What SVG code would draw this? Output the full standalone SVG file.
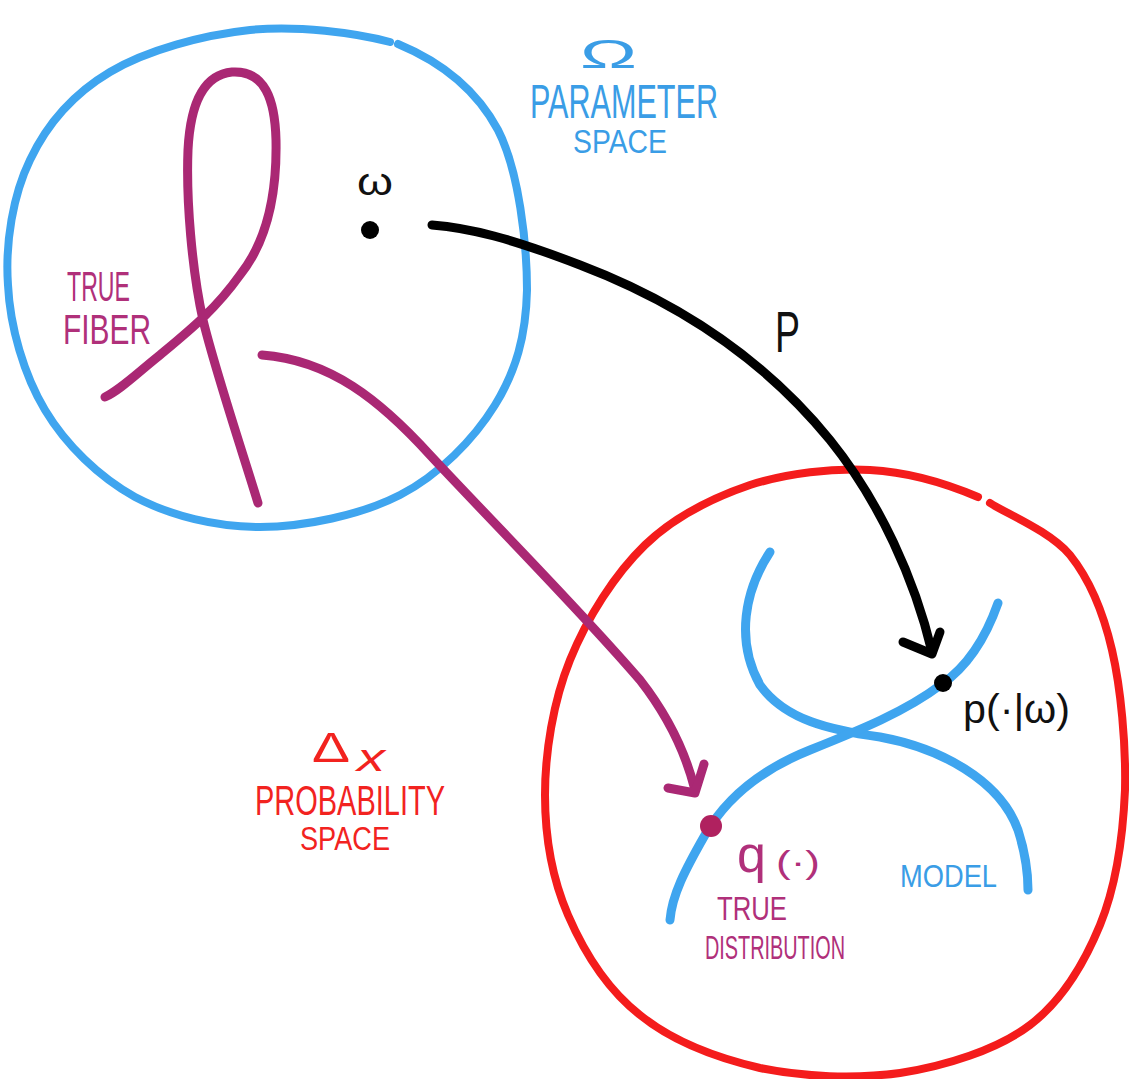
<svg xmlns="http://www.w3.org/2000/svg" width="1129" height="1079" viewBox="0 0 1129 1079">
<style>
.stroke{fill:none;stroke-linecap:round;stroke-linejoin:round}
.blue{stroke:#3fa5ef}
.red{stroke:#f41c1c}
.mag{stroke:#aa2874}
.blk{stroke:#000}
text{font-family:"Liberation Sans",Arial,sans-serif}
.tb{fill:#3a9de6}
.tr{fill:#f2231f}
.tm{fill:#b0307a}
.tk{fill:#111}
</style>
<rect width="1129" height="1079" fill="#fff"/>
<g id="parameter-space">
<path class="stroke blue" stroke-width="8" d="M398,44 C439,61 476,89 498,130 C519,171 527,244 527,290 C526,336 516,371 495,405 C474,439 439,475 400,495 C361,515 304,527 260,527 C216,527 171,516 135,497 C99,477 66,445 45,410 C24,375 10,327 8,285 C5,243 13,195 30,160 C47,124 73,94 110,72 C147,50 203,35 250,30 C297,25 356,33 390,42"/>
<text class="tb" x="580" y="68" font-size="40" textLength="57" lengthAdjust="spacingAndGlyphs">Ω</text>
<text class="tb" x="530" y="118" font-size="48" textLength="188" lengthAdjust="spacingAndGlyphs">PARAMETER</text>
<text class="tb" x="573" y="153" font-size="33" textLength="94" lengthAdjust="spacingAndGlyphs">SPACE</text>
</g>
<g id="probability-space">
<path class="stroke red" stroke-width="8" d="M990,503 C1005,513 1050,531 1070,555 C1090,580 1103,611 1112,650 C1121,689 1126,744 1125,790 C1123,836 1116,886 1100,925 C1084,964 1063,1000 1030,1025 C997,1050 945,1066 900,1073 C855,1079 803,1077 760,1068 C717,1058 672,1041 640,1015 C608,990 584,952 568,915 C552,878 545,838 545,795 C545,753 553,702 570,660 C587,618 615,574 645,545 C675,516 712,498 750,485 C788,473 832,468 870,470 C908,472 945,483 978,497"/>
<text class="tr" x="312" y="762" font-size="42" textLength="38" lengthAdjust="spacingAndGlyphs">Δ</text>
<text class="tr" x="357" y="771" font-size="38" font-style="italic" textLength="28" lengthAdjust="spacingAndGlyphs">x</text>
<text class="tr" x="255" y="815" font-size="42" textLength="190" lengthAdjust="spacingAndGlyphs">PROBABILITY</text>
<text class="tr" x="300" y="850" font-size="33" textLength="90" lengthAdjust="spacingAndGlyphs">SPACE</text>
</g>
<g id="true-fiber">
<path class="stroke mag" stroke-width="9" d="M258,503 C245,460 215,370 203,320 C192,270 186,200 188,150 C190,110 200,75 232,72 C265,70 275,100 276,140 C277,190 268,240 240,275 C215,310 190,330 160,355 C135,375 120,390 105,397"/>
<text class="tm" x="67" y="301" font-size="42" textLength="63" lengthAdjust="spacingAndGlyphs">TRUE</text>
<text class="tm" x="63" y="344" font-size="42" textLength="88" lengthAdjust="spacingAndGlyphs">FIBER</text>
</g>
<g id="omega">
<circle cx="370" cy="230" r="9" fill="#000"/>
<text class="tk" x="357" y="195" font-size="38" textLength="36" lengthAdjust="spacingAndGlyphs">ω</text>
</g>
<g id="model">
<path class="stroke blue" stroke-width="9" d="M770,552 C745,590 735,640 760,685 C785,720 830,730 880,737 C940,748 1000,780 1018,830 C1026,855 1028,875 1028,890"/>
<path class="stroke blue" stroke-width="9" d="M998,603 C985,640 965,668 942,684 C905,712 860,730 810,750 C760,770 725,800 705,835 C685,870 672,895 670,920"/>
<text class="tb" x="900" y="887" font-size="31" textLength="97" lengthAdjust="spacingAndGlyphs">MODEL</text>
</g>
<g id="p-omega">
<circle cx="943" cy="683" r="9" fill="#000"/>
<text class="tk" x="963" y="723" font-size="40" textLength="107" lengthAdjust="spacingAndGlyphs">p(·|ω)</text>
</g>
<g id="q-true">
<circle cx="711" cy="826" r="11" fill="#b0215f"/>
<text class="tm" x="737" y="872" font-size="52">q</text>
<text class="tm" x="776" y="873" font-size="32" textLength="44" lengthAdjust="spacingAndGlyphs">(·)</text>
<text class="tm" x="717" y="920" font-size="33" textLength="70" lengthAdjust="spacingAndGlyphs">TRUE</text>
<text class="tm" x="705" y="959" font-size="34" textLength="140" lengthAdjust="spacingAndGlyphs">DISTRIBUTION</text>
</g>
<g id="connectors">
<path class="stroke blk" stroke-width="9" d="M432,225 C470,228 510,238 580,265 C680,303 765,360 830,440 C880,502 915,580 932,652"/>
<path class="stroke blk" stroke-width="9" d="M903,642 L932,654 L940,632"/>
<path class="stroke mag" stroke-width="9" d="M262,355 C330,360 380,400 430,455 C500,530 580,610 640,680 C665,712 685,750 695,790"/>
<path class="stroke mag" stroke-width="9" d="M668,788 L695,793 L704,764"/>
<text class="tk" x="775" y="352" font-size="58" textLength="25" lengthAdjust="spacingAndGlyphs">P</text>
</g>
</svg>
